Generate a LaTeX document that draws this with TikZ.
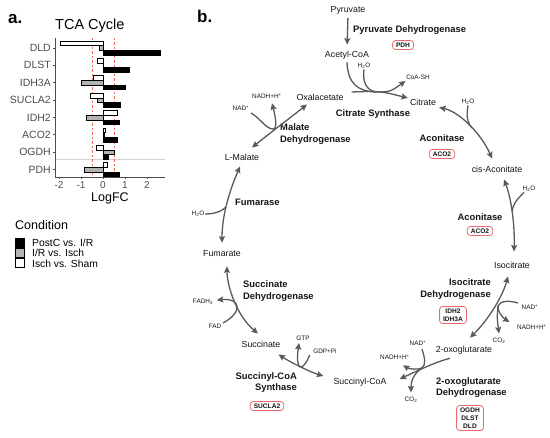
\documentclass[tikz,border=0pt]{standalone}
\usepackage{fontspec}
\setmainfont{Liberation Sans}
\usetikzlibrary{arrows.meta}
\definecolor{arrc}{HTML}{5A5A5A}
\definecolor{boxc}{HTML}{EE6A6A}
\definecolor{txtc}{HTML}{161616}
\definecolor{axc}{HTML}{4D4D4D}
\definecolor{redd}{HTML}{F26B5B}
\definecolor{barg}{HTML}{B3B3B3}
\tikzset{
  met/.style={font=\fontsize{8.8}{10}\selectfont, text=txtc, inner sep=1pt},
  enz/.style={font=\fontsize{9.4}{11.5}\selectfont\bfseries, text=txtc, inner sep=0pt},
  sml/.style={font=\fontsize{6.4}{7.5}\selectfont, text=txtc, inner sep=0.5pt},
  gbox/.style={draw=boxc, rounded corners=3pt, line width=0.8pt, font=\fontsize{6.6}{8}\selectfont\bfseries, text=txtc, inner xsep=3.5pt, inner ysep=2.2pt, align=center},
  ln/.style={draw=arrc, line width=1.3pt},
  arr/.style={ln, -{Stealth[length=6.5pt,width=6pt,inset=1pt]}},
  barr/.style={ln, {Stealth[length=6.5pt,width=6pt,inset=1pt]}-{Stealth[length=6.5pt,width=6pt,inset=1pt]}},
  genel/.style={font=\fontsize{10.5}{12}\selectfont, text=axc, inner sep=0pt},
  axlab/.style={font=\fontsize{10}{12}\selectfont, text=axc, inner sep=0pt},
  panl/.style={font=\fontsize{17}{20}\selectfont\bfseries, inner sep=0pt},
  legl/.style={font=\fontsize{10.3}{12}\selectfont, inner sep=0pt, anchor=west},
  barline/.style={line width=0.45pt, draw=black},
}
\begin{document}
\begin{tikzpicture}[x=1pt,y=-1pt]
\fill[white] (0,0) rectangle (550,438);
\useasboundingbox (0,0) rectangle (550,438);

%% ---------------- panel a ----------------
\node[panl, anchor=base west] (alab) at (8,24) {a.};
\node[font=\fontsize{14.5}{16}\selectfont, inner sep=0pt, anchor=base west] (title) at (55,30) {TCA Cycle};
\draw[gray!35, line width=0.5pt] (55,159) -- (165,159);
\draw[redd, line width=0.8pt, dash pattern=on 2.5pt off 2pt] (92,38) -- (92,177);
\draw[redd, line width=0.8pt, dash pattern=on 2.5pt off 2pt] (114,38) -- (114,177);
\foreach \g/\w/\m/\b [count=\i from 0] in {DLD/-1.95/-0.18/2.6, DLST/-0.28/0.02/1.2, IDH3A/-0.44/-1.0/1.0, SUCLA2/-0.58/-0.28/0.77, IDH2/0.65/-0.78/0.72, ACO2/0.12/0.05/0.65, OGDH/-0.33/0.52/0.25, PDH/0.2/-0.85/0.75} {
  \pgfmathsetmacro{\yc}{48+17.36*\i}
  \draw[barline, fill=white] (103,\yc-7) rectangle ({103+22*\w},\yc-2.35);
  \draw[barline, fill=barg] (103,\yc-2.35) rectangle ({103+22*\m},\yc+2.3);
  \draw[barline, fill=black] (103,\yc+2.3) rectangle ({103+22*\b},\yc+7);
  \draw[axc, line width=0.6pt] (52.5,\yc) -- (55,\yc);
  \node[genel, anchor=east] (g\g) at (51,\yc) {\g};
}
\draw[axc, line width=0.6pt] (55,38) -- (55,177) -- (165,177);
\foreach \xv/\lab in {-2/-2,-1/-1,0/0,1/1,2/2} {
  \draw[axc, line width=0.6pt] ({103+22*\xv},177) -- ({103+22*\xv},179.5);
  \node[axlab, anchor=north] (tk\xv) at ({103+22*\xv},181) {\lab};
}
\node[font=\fontsize{12.5}{14}\selectfont, inner sep=0pt] (xlab) at (110,198) {LogFC};
\node[font=\fontsize{12.5}{14}\selectfont, inner sep=0pt, anchor=west] (legt) at (15,225) {Condition};
\draw[barline, fill=black] (15,238.5) rectangle (24.5,247);
\draw[barline, fill=barg] (15,248.5) rectangle (24.5,257);
\draw[barline, fill=white] (15,258.5) rectangle (24.5,267.5);
\node[legl] (l1) at (32,243) {PostC vs. I/R};
\node[legl] (l2) at (32,253) {I/R vs. Isch};
\node[legl] (l3) at (32,263.5) {Isch vs. Sham};

%% ---------------- panel b ----------------
\node[panl, anchor=base west] (blab) at (197,23) {b.};

\node[met] (pyr) at (348,10) {Pyruvate};
\node[met] (acoa) at (347,55) {Acetyl-CoA};
\node[enz, anchor=west] (pdhe) at (353,30) {Pyruvate Dehydrogenase};
\node[gbox] (pdhb) at (403,45) {PDH};
\node[sml] (w1) at (364,66) {H\textsubscript{2}O};
\node[sml] (coash) at (418,77) {CoA-SH};
\node[met] (cit) at (423,102) {Citrate};
\node[met] (oxa) at (320,97) {Oxalacetate};
\node[enz] (cse) at (373,114) {Citrate Synthase};
\node[enz] (ac1) at (442,138) {Aconitase};
\node[gbox] (acb1) at (442,154) {ACO2};
\node[sml] (w2) at (468,102) {H\textsubscript{2}O};
\node[met] (cisa) at (497,169) {cis-Aconitate};
\node[sml] (w3) at (529,189) {H\textsubscript{2}O};
\node[enz] (ac2) at (480,217) {Aconitase};
\node[gbox] (acb2) at (480,231) {ACO2};
\node[met] (isoc) at (512,265) {Isocitrate};
\node[enz, align=right, anchor=east] (idhe) at (491,289) {Isocitrate\\Dehydrogenase};
\node[gbox] (idhb) at (453,315) {IDH2\\IDH3A};
\node[sml] (nad1) at (530,307) {NAD\textsuperscript{+}};
\node[sml] (nadh1) at (532,327) {NADH+H\textsuperscript{+}};
\node[sml] (co21) at (499,341) {CO\textsubscript{2}};
\node[met] (ogl) at (464,350) {2-oxoglutarate};
\node[enz, align=left, anchor=west] (ogde) at (436,387.5) {2-oxoglutarate\\Dehydrogenase};
\node[gbox] (ogdb) at (470,418) {OGDH\\DLST\\DLD};
\node[sml] (nad2) at (418,343) {NAD\textsuperscript{+}};
\node[sml] (nadh2) at (395,357) {NADH+H\textsuperscript{+}};
\node[sml] (co22) at (411,400) {CO\textsubscript{2}};
\node[met] (sucoa) at (360,382) {Succinyl-CoA};
\node[sml] (gtp) at (303,338) {GTP};
\node[sml] (gdp) at (325,351) {GDP+Pi};
\node[met] (succ) at (261,344) {Succinate};
\node[enz, align=right, anchor=east] (scse) at (297,382.5) {Succinyl-CoA\\Synthase};
\node[gbox] (scsb) at (267,406) {SUCLA2};
\node[enz, align=left, anchor=west] (sdhe) at (243,291) {Succinate\\Dehydrogenase};
\node[sml] (fadh) at (203,302) {FADH\textsubscript{2}};
\node[sml] (fad) at (215,326) {FAD};
\node[met] (fum) at (222,254) {Fumarate};
\node[enz, anchor=west] (fume) at (235,202) {Fumarase};
\node[sml] (w4) at (198,214) {H\textsubscript{2}O};
\node[met] (lmal) at (242,157) {L-Malate};
\node[enz, align=left, anchor=west] (mdhe) at (280,134) {Malate\\Dehydrogenase};
\node[sml] (nad3) at (241,108) {NAD\textsuperscript{+}};
\node[sml] (nadh3) at (267,96) {NADH+H\textsuperscript{+}};

% junction coordinates
\coordinate (csj) at (375,92);
\coordinate (acj1) at (472,128);
\coordinate (acj2) at (512,211);
\coordinate (idhj) at (498,306);
\coordinate (ogj) at (422,368);
\coordinate (fuj) at (226,207);
\coordinate (mdj) at (273,129);

% pyruvate dehydrogenase
\draw[arr, shorten <=3pt, shorten >=5pt] (pyr.south) -- (acoa.north);

% citrate synthase
\draw[ln] ([yshift=-2pt]acoa.south) .. controls (348,84) and (358,91) .. (csj);
\draw[ln] (w1.south) .. controls (362,84) and (368,90) .. (csj);
\draw[arr] ([xshift=7pt,yshift=5pt]oxa.east) .. controls (380,91) .. ([xshift=-1pt,yshift=4pt]cit.west);
\draw[arr] (csj) .. controls (390,92) .. ([yshift=-1pt]coash.south west);

% aconitase 1
\draw[barr] ([xshift=2pt,yshift=-1pt]cit.south east) .. controls (460,112) and (482,135) .. ([xshift=-5pt,yshift=6pt]cisa.north);
\draw[ln] (w2.south) .. controls (466,118) and (468,124) .. (acj1);

% aconitase 2
\draw[barr] ([xshift=7pt,yshift=-6pt]cisa.south) .. controls (510,195) and (515,220) .. ([xshift=2pt,yshift=9pt]isoc.north);
\draw[ln] ([xshift=-5pt]w3.south) .. controls (516,200) and (513,205) .. (acj2);

% isocitrate dehydrogenase
\draw[barr] ([xshift=-4pt,yshift=-7pt]isoc.south) .. controls (503,295) and (490,318) .. ([xshift=6pt,yshift=7pt]ogl.north);
\draw[arr] ([xshift=-3pt,yshift=4pt]nad1.west) .. controls (508,300) and (500,301) .. (idhj) .. controls (497,311) and (503,318) .. ([xshift=-7pt,yshift=5pt]nadh1.west);
\draw[arr] (idhj) .. controls (497,318) .. ([yshift=4pt]co21.north);

% 2-oxoglutarate dehydrogenase
\draw[arr] ([xshift=-14pt,yshift=-3pt]ogl.south) .. controls (435,362) and (415,372) .. ([xshift=12pt,yshift=3pt]sucoa.east);
\draw[arr] ([xshift=4pt,yshift=-3pt]nad2.south) .. controls (425,358) and (426,365) .. (ogj) .. controls (417,370) and (409,369) .. ([xshift=8pt,yshift=-5pt]nadh2.south);
\draw[arr] (ogj) .. controls (413,374) and (411,382) .. ([yshift=4pt]co22.north);

% succinyl-CoA synthase
\draw[barr] ([xshift=-9pt,yshift=6pt]sucoa.west) .. controls (310,372) and (290,362) .. ([xshift=-3pt,yshift=-6pt]succ.south east);
\draw[arr] ([xshift=-3pt,yshift=-4pt]gdp.west) .. controls (303,372) and (295,372) .. ([xshift=-4pt,yshift=-2pt]gtp.south);

% succinate dehydrogenase
\draw[barr] ([xshift=5pt,yshift=-8pt]fum.south) .. controls (227,285) and (236,315) .. ([xshift=-3pt,yshift=6pt]succ.north);
\draw[arr] ([xshift=1pt,yshift=3pt]fad.east) .. controls (242,313) and (242,298) .. ([xshift=3pt,yshift=2pt]fadh.east);

% fumarase
\draw[barr] ([yshift=7pt]fum.north) .. controls (222,212) and (232,185) .. ([xshift=-2pt,yshift=-5pt]lmal.south);
\draw[ln] (w4.east) .. controls (217,214) and (223,210) .. (fuj);

% malate dehydrogenase
\draw[barr] ([xshift=10pt,yshift=5pt]lmal.north) .. controls (270,133) and (290,118) .. ([xshift=-13pt,yshift=-3pt]oxa.south);
\draw[arr] ([xshift=1pt,yshift=-5pt]nad3.east) .. controls (260,118) and (266,129) .. (mdj) .. controls (278,129) and (275,115) .. ([xshift=5pt,yshift=-4pt]nadh3.south);
\end{tikzpicture}
\end{document}
